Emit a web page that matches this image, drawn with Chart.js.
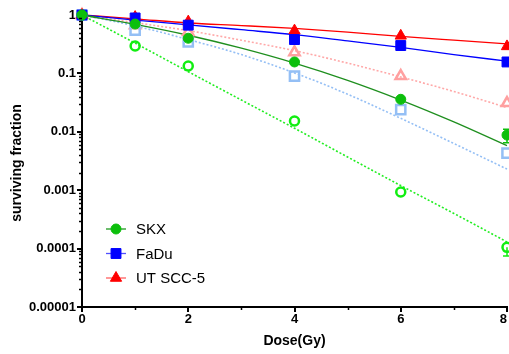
<!DOCTYPE html>
<html>
<head>
<meta charset="utf-8">
<script src="https://cdn.jsdelivr.net/npm/chart.js@4"></script>
<style>
  html, body { margin: 0; padding: 0; background: #fff; }
  #wrap { width: 509px; height: 354px; }
</style>
</head>
<body>
<div id="wrap"><canvas id="chartSF"></canvas></div>
<script>
// measured points
const doses = [0, 1, 2, 4, 6, 8];
const skx = [1, 0.70, 0.40, 0.157, 0.036, 0.0088];
const fadu = [1, 0.89, 0.67, 0.38, 0.30, 0.157];
const utscc = [1, 0.92, 0.77, 0.54, 0.44, 0.29];
const skxOpen = [1, 0.295, 0.134, 0.0153, 0.00093, 0.000105];
const faduOpen = [1, 0.55, 0.345, 0.09, 0.024, 0.0043];
const utsccOpen = [1, 0.67, 0.51, 0.23, 0.09, 0.031];
const skxErr = [0, 0, 0, 0, 0, 0.0023];
const skxOpenErrLow = [0, 0, 0, 0, 0, 0.00003];

// fitted curves
const fitDoses = [0, 1, 2, 3, 4, 5, 6, 7, 8];
const skxFit = [1, 0.69, 0.45, 0.27, 0.15, 0.076, 0.035, 0.0148, 0.0058];
const faduFit = [1, 0.82, 0.68, 0.56, 0.46, 0.36, 0.28, 0.21, 0.162];
const utsccFit = [1, 0.86, 0.73, 0.66, 0.59, 0.51, 0.43, 0.37, 0.32];
const skxOpenFit = [1, 0.33, 0.107, 0.035, 0.0115, 0.0037, 0.0012, 0.0004, 0.00013];
const faduOpenFit = [1, 0.65, 0.38, 0.21, 0.102, 0.044, 0.017, 0.0063, 0.0023];
const utsccOpenFit = [1, 0.74, 0.54, 0.37, 0.245, 0.15, 0.087, 0.049, 0.026];

const yTicks = [1, 0.1, 0.01, 0.001, 0.0001, 0.00001];
const yTickLabels = ["1", "0.1", "0.01", "0.001", "0.0001", "0.00001"];
const xTicks = [0, 2, 4, 6, 8];
const xTickLabels = ["0", "2", "4", "6", "8"];
const yTitle = "surviving fraction";

const FONT = "'Liberation Sans', Arial, sans-serif";
const pts = (xs, ys) => xs.map((x, i) => ({ x, y: ys[i] }));

function pointSet(label, data, style, color, radius, filled, extra) {
  return Object.assign({
    label,
    data: pts(doses, data),
    showLine: false,
    pointStyle: style,
    pointRadius: radius,
    pointHoverRadius: radius,
    pointBackgroundColor: filled ? color : "rgba(0,0,0,0)",
    pointBorderColor: color,
    pointBorderWidth: filled ? 1 : 2.5,
    backgroundColor: color,
    borderColor: color,
    clip: false,
  }, extra || {});
}

function fitSet(data, color, dotted) {
  return {
    label: "",
    data: pts(fitDoses, data),
    showLine: true,
    pointRadius: 0,
    borderColor: color,
    borderWidth: dotted ? 1.6 : 1.3,
    borderDash: dotted ? [2, 2] : [],
    cubicInterpolationMode: "monotone",
    fill: false,
    clip: false,
  };
}

// error bars drawn under the markers
const errorBars = {
  id: "errorBars",
  beforeDatasetsDraw(chart) {
    const { ctx, scales } = chart;
    chart.data.datasets.forEach((ds) => {
      if (!ds.errUp && !ds.errDown) return;
      ctx.save();
      ctx.strokeStyle = ds.borderColor;
      ctx.lineWidth = 1.5;
      ds.data.forEach((p, i) => {
        const up = ds.errUp ? ds.errUp[i] : 0;
        const dn = ds.errDown ? ds.errDown[i] : 0;
        if (!up && !dn) return;
        const x = scales.x.getPixelForValue(p.x);
        const y0 = scales.y.getPixelForValue(p.y + up);
        const y1 = scales.y.getPixelForValue(p.y - dn);
        ctx.beginPath();
        ctx.moveTo(x, y0); ctx.lineTo(x, y1);
        if (up) { ctx.moveTo(x - 4, y0); ctx.lineTo(x + 4, y0); }
        if (dn) { ctx.moveTo(x - 4, y1); ctx.lineTo(x + 4, y1); }
        ctx.stroke();
      });
      ctx.restore();
    });
  },
};

// minor ticks, x tick labels (kept inside the canvas) and the rotated y title
const axisExtras = {
  id: "axisExtras",
  afterDraw(chart) {
    const { ctx, scales, chartArea, width } = chart;
    ctx.save();
    ctx.strokeStyle = "#000";
    ctx.lineWidth = 1.5;
    ctx.beginPath();
    for (let e = -5; e < 0; e++) {
      for (let m = 2; m <= 9; m++) {
        const y = Math.round(scales.y.getPixelForValue(m * Math.pow(10, e))) + 0.5;
        ctx.moveTo(chartArea.left - 3, y);
        ctx.lineTo(chartArea.left, y);
      }
    }
    [1, 3, 5, 7].forEach((d) => {
      const x = Math.round(scales.x.getPixelForValue(d)) + 0.5;
      ctx.moveTo(x, chartArea.bottom);
      ctx.lineTo(x, chartArea.bottom + 3);
    });
    ctx.stroke();

    ctx.fillStyle = "#000";
    ctx.font = "bold 13px " + FONT;
    ctx.textAlign = "center";
    ctx.textBaseline = "top";
    xTicks.forEach((v, i) => {
      const half = ctx.measureText(xTickLabels[i]).width / 2;
      const x = Math.min(scales.x.getPixelForValue(v), width - half - 2);
      ctx.fillText(xTickLabels[i], x, chartArea.bottom + 6);
    });

    ctx.translate(17, 163);
    ctx.rotate(-Math.PI / 2);
    ctx.font = "bold 14px " + FONT;
    ctx.textBaseline = "middle";
    ctx.fillText(yTitle, 0, 0);
    ctx.restore();
  },
};

// legend inside the plot, marker on a short line
const insideLegend = {
  id: "insideLegend",
  afterDatasetsDraw(chart) {
    const { ctx } = chart;
    const items = chart.data.datasets.filter((ds) => ds.inLegend);
    ctx.save();
    items.forEach((ds, i) => {
      const y = 229 + i * 24.5;
      ctx.strokeStyle = ds.legendLine;
      ctx.lineWidth = 1.3;
      ctx.beginPath();
      ctx.moveTo(106, y);
      ctx.lineTo(126, y);
      ctx.stroke();
      ctx.fillStyle = ds.pointBackgroundColor;
      ctx.strokeStyle = ds.pointBorderColor;
      ctx.lineWidth = 1;
      Chart.helpers.drawPoint(ctx, {
        pointStyle: ds.pointStyle,
        radius: ds.pointRadius,
        rotation: 0,
        borderWidth: 1,
      }, 116, y);
      ctx.fillStyle = "#000";
      ctx.font = "15px " + FONT;
      ctx.textBaseline = "middle";
      ctx.textAlign = "left";
      ctx.fillText(ds.label, 136, y + 1);
    });
    ctx.restore();
  },
};

new Chart(document.getElementById("chartSF"), {
  type: "scatter",
  data: {
    datasets: [
      pointSet("SKX", skx, "circle", "#0cbf0c", 5, true, { inLegend: true, legendLine: "#1e9a1e", errUp: skxErr, errDown: skxErr }),
      pointSet("FaDu", fadu, "rect", "#0000ff", 7, true, { inLegend: true, legendLine: "#5050ff" }),
      pointSet("UT SCC-5", utscc, "triangle", "#ff0000", 6.5, true, { inLegend: true, legendLine: "#ff6060" }),
      pointSet("SKX ", skxOpen, "circle", "#11ee11", 4.5, false, { errDown: skxOpenErrLow }),
      pointSet("FaDu ", faduOpen, "rect", "#94bff5", 6.5, false),
      pointSet("UT SCC-5 ", utsccOpen, "triangle", "#ffa0a0", 6, false),
      fitSet(skxFit, "#1f8f1f", false),
      fitSet(faduFit, "#0000ff", false),
      fitSet(utsccFit, "#ff0000", false),
      fitSet(skxOpenFit, "#22ee22", true),
      fitSet(faduOpenFit, "#94bff5", true),
      fitSet(utsccOpenFit, "#ffa8a8", true),
    ],
  },
  options: {
    responsive: true,
    maintainAspectRatio: false,
    animation: false,
    layout: { autoPadding: false, padding: { top: 15, right: 2, left: 0, bottom: 0 } },
    plugins: { legend: { display: false }, tooltip: { enabled: false } },
    scales: {
      x: {
        type: "linear",
        min: 0,
        max: 8,
        afterBuildTicks: (s) => { s.ticks = xTicks.map((v) => ({ value: v })); },
        afterFit: (s) => { s.height = 47; s.paddingRight = 0; s.paddingLeft = 0; },
        ticks: { display: false },
        grid: { display: true, drawOnChartArea: false, drawTicks: true, tickLength: 5, color: "#000", lineWidth: 2 },
        border: { display: true, color: "#000", width: 2 },
        title: { display: true, text: "Dose(Gy)", color: "#000", padding: { top: 0, bottom: 4 }, font: { family: FONT, size: 14, weight: "bold" } },
      },
      y: {
        type: "logarithmic",
        min: 0.00001,
        max: 1,
        afterBuildTicks: (s) => { s.ticks = yTicks.map((v) => ({ value: v })); },
        afterFit: (s) => { s.width = 82; s.paddingTop = 0; s.paddingBottom = 0; },
        ticks: {
          color: "#000",
          padding: 1,
          font: { family: FONT, size: 13, weight: "bold" },
          callback: (v) => {
            const i = yTicks.findIndex((t) => Math.abs(t - v) / t < 1e-6);
            return i >= 0 ? yTickLabels[i] : "";
          },
        },
        grid: { display: true, drawOnChartArea: false, drawTicks: true, tickLength: 5, color: "#000", lineWidth: 2 },
        border: { display: true, color: "#000", width: 2 },
        title: { display: false },
      },
    },
  },
  plugins: [errorBars, axisExtras, insideLegend],
});
</script>
</body>
</html>
